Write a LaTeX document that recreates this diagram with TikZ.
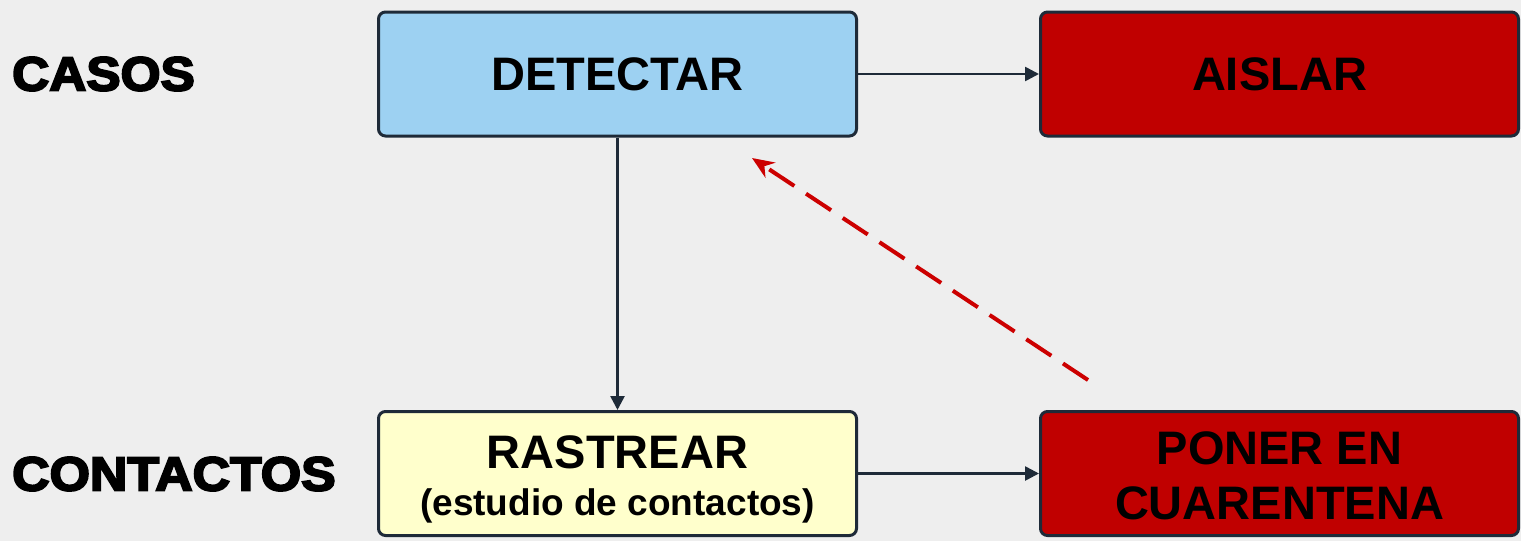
\documentclass[tikz,border=0pt]{standalone}
\usepackage{fontspec}
\setmainfont{Liberation Sans}
\newfontfamily\heavyfont[FakeBold=4]{Liberation Sans Bold}
\usetikzlibrary{arrows.meta}
\definecolor{bg}{HTML}{EEEEEE}
\definecolor{edge}{HTML}{1E2A38}
\definecolor{bluefill}{HTML}{9DD1F2}
\definecolor{yellowfill}{HTML}{FFFFCC}
\definecolor{redfill}{HTML}{C00000}
\definecolor{dashred}{HTML}{CC0000}
\begin{document}
\begin{tikzpicture}[x=1pt,y=-1pt,
  box/.style={draw=edge, line width=3pt, rounded corners=7pt, minimum width=478pt, minimum height=124pt, inner sep=0pt, align=center, font=\bfseries\fontsize{47}{55}\selectfont},
  boxtext/.style={inner sep=0pt, align=center, font=\bfseries\fontsize{47}{55}\selectfont},
  rowlabel/.style={anchor=west, inner sep=0pt, font=\heavyfont\fontsize{48}{52}\selectfont},
  flow/.style={draw=edge, line width=2.6pt, -{Triangle[length=14pt,width=14pt]}},
  feedback/.style={draw=dashred, line width=4pt, dash pattern=on 30pt off 14pt, -{Stealth[length=22pt,width=18pt]}}]
\useasboundingbox[fill=bg] (0,0) rectangle (1521,541);
\node[box, fill=bluefill] (detectar) at (617.5,74) {DETECTAR};
\node[box, fill=redfill] (aislar) at (1279.5,74) {AISLAR};
\node[box, fill=yellowfill] (rastrear) at (617.5,473.5) {};
\node[boxtext] (rastreartxt) at (617.5,479) {RASTREAR\\[-8pt]{\fontsize{37}{42}\selectfont (estudio de contactos)}};
\node[box, fill=redfill] (poner) at (1279.5,473.5) {};
\node[boxtext] (ponertxt) at (1279.5,476) {PONER EN\\CUARENTENA};
\node[rowlabel] (casos) at (12,74) {\scalebox{1.07}[1]{CASOS}};
\node[rowlabel] (contactos) at (12,474) {\scalebox{1.08}[1]{CONTACTOS}};
\coordinate (fbstart) at (1088,380);
\coordinate (fbend) at (752,158);
\draw[flow] (detectar) -- (aislar);
\draw[flow] (detectar) -- (rastrear);
\draw[flow] (rastrear) -- (poner);
\draw[feedback] (fbstart) -- (fbend);
\end{tikzpicture}
\end{document}
